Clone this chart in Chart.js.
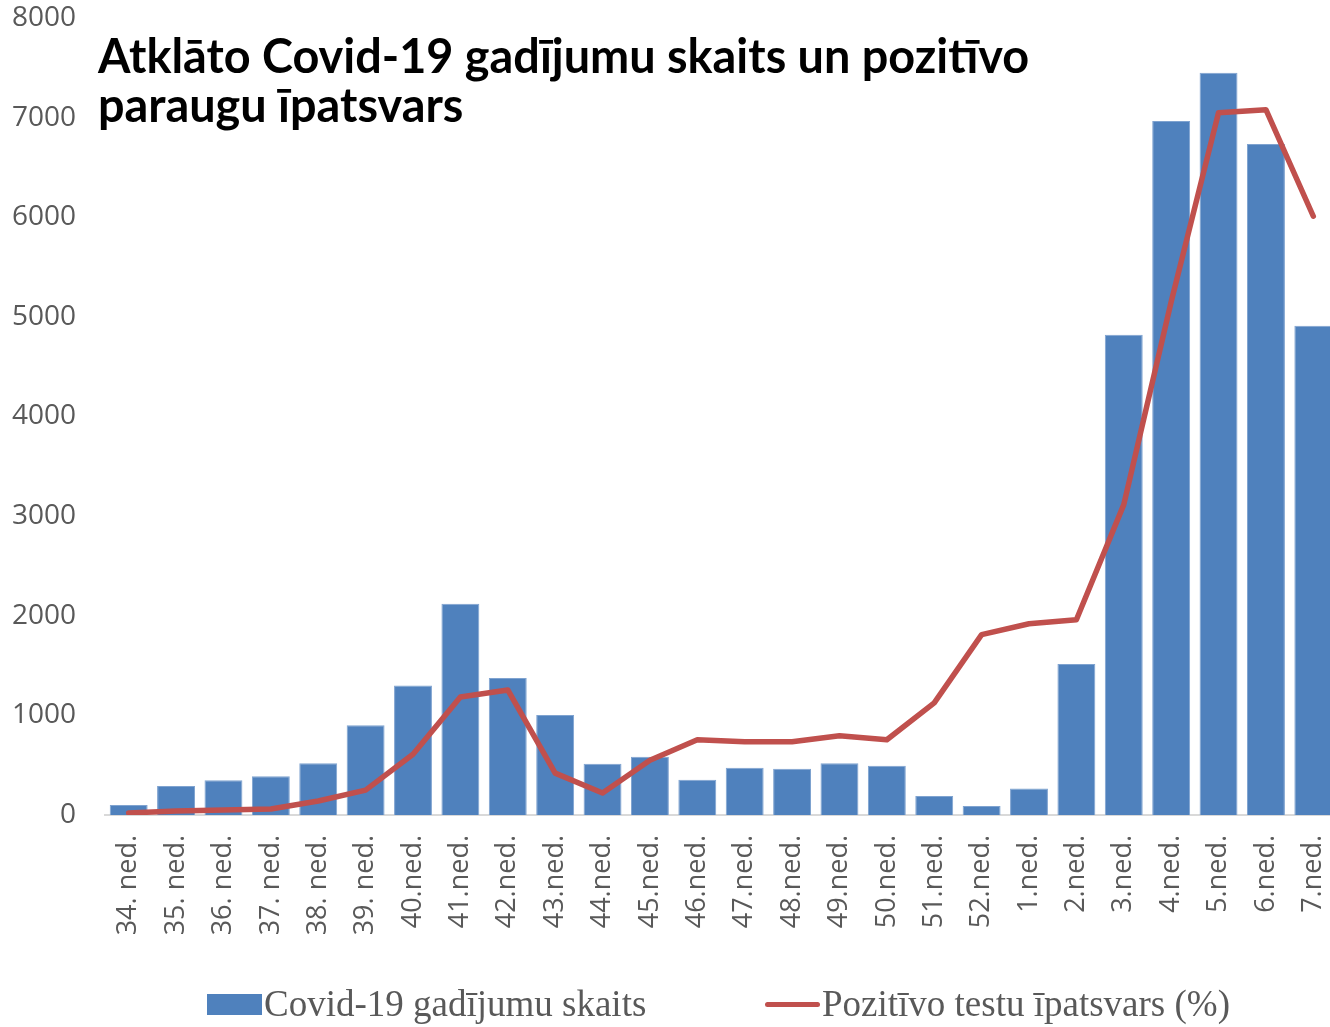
<!DOCTYPE html>
<html>
<head>
<meta charset="utf-8">
<script src="https://cdn.jsdelivr.net/npm/chart.js@4/dist/chart.umd.min.js"></script>
<style>
  html, body { margin: 0; padding: 0; background: #fff; overflow: hidden; }
  #wrap { position: relative; width: 1340px; height: 1027px; }
  #title {
    position: absolute; left: 98px; top: 31px;
    font-family: Lato, sans-serif; font-weight: 700; font-size: 46.8px;
    line-height: 49px; color: #000; white-space: nowrap;
  }
  #legend {
    position: absolute; top: 982px; left: 0; width: 1330px;
    font-family: "Liberation Serif", serif; font-size: 37px; line-height: 44px; color: #595959;
  }
  .item { position: absolute; top: 0; white-space: nowrap; }
  .swatch { display: inline-block; vertical-align: middle; margin-right: 2px; position: relative; top: -3px; }
</style>
</head>
<body>
<div id="wrap">
  <canvas id="chart" width="1340" height="1027"></canvas>
  <div id="title">Atklāto Covid-19 gadījumu skaits un pozitīvo<br>paraugu īpatsvars</div>
  <div id="legend">
    <span class="item" style="left:207px"><span class="swatch" style="width:55px;height:21px;background:#4F81BD"></span>Covid-19 gadījumu skaits</span>
    <span class="item" style="left:765px"><span class="swatch" style="width:55px;height:5px;border-radius:3px;background:#C0504D"></span>Pozitīvo testu īpatsvars (%)</span>
  </div>
</div>
<script>
const weeks = ["34. ned.", "35. ned.", "36. ned.", "37. ned.", "38. ned.", "39. ned.",
  "40.ned.", "41.ned.", "42.ned.", "43.ned.", "44.ned.", "45.ned.", "46.ned.", "47.ned.",
  "48.ned.", "49.ned.", "50.ned.", "51.ned.", "52.ned.", "1.ned.", "2.ned.", "3.ned.",
  "4.ned.", "5.ned.", "6.ned.", "7.ned."];

// weekly detected cases
const cases = [100, 290, 350, 390, 520, 900, 1300, 2120, 1375, 1005, 515, 585, 355, 475,
  465, 520, 495, 190, 90, 265, 1515, 4820, 6965, 7450, 6735, 4910];

// share of positive tests, % (own hidden axis)
const positiveShare = [0.04, 0.08, 0.10, 0.12, 0.28, 0.50, 1.22, 2.37, 2.51, 0.84, 0.44,
  1.10, 1.51, 1.47, 1.47, 1.59, 1.51, 2.25, 3.62, 3.84, 3.92, 6.23, 10.3, 14.1, 14.16, 12.02];

const yTicks = [0, 1000, 2000, 3000, 4000, 5000, 6000, 7000, 8000];

function drawChart() {
  const ctx = document.getElementById("chart").getContext("2d");
  new Chart(ctx, {
    data: {
      labels: weeks,
      datasets: [
        {
          type: "line",
          label: "Pozitīvo testu īpatsvars (%)",
          data: positiveShare,
          yAxisID: "y1",
          borderColor: "#C0504D",
          backgroundColor: "#C0504D",
          borderWidth: 5.5,
          borderCapStyle: "round",
          borderJoinStyle: "round",
          pointRadius: 0,
          tension: 0,
          order: 0,
        },
        {
          type: "bar",
          label: "Covid-19 gadījumu skaits",
          data: cases,
          yAxisID: "y",
          backgroundColor: "#4F81BD",
          borderColor: "#7FA3D0",
          borderWidth: 1,
          categoryPercentage: 1,
          barPercentage: 0.8,
          order: 1,
        },
      ],
    },
    options: {
      responsive: false,
      animation: false,
      layout: { padding: { top: 18, right: 3, bottom: 0, left: 0 } },
      plugins: {
        legend: { display: false },
        tooltip: { enabled: false },
      },
      scales: {
        x: {
          grid: { display: false, drawTicks: false },
          border: { display: true, color: "#D9D9D9", width: 2 },
          ticks: {
            color: "#595959",
            font: { family: "'Open Sans', sans-serif", size: 27 },
            minRotation: 90,
            maxRotation: 90,
            autoSkip: false,
            padding: 20,
          },
          afterFit: (scale) => {
            scale.height = 212;
            scale.paddingLeft = 0;
            scale.paddingRight = 0;
          },
        },
        y: {
          min: 0,
          max: 8000,
          grid: { display: false, drawTicks: false },
          border: { display: false },
          afterBuildTicks: (scale) => { scale.ticks = yTicks.map((v) => ({ value: v })); },
          ticks: {
            color: "#595959",
            font: { family: "'Open Sans', sans-serif", size: 28 },
            padding: 29,
            callback: (v) => String(v),
          },
          afterFit: (scale) => {
            scale.width = 105;
            scale.paddingTop = 0;
            scale.paddingBottom = 0;
          },
        },
        y1: {
          display: false,
          min: 0,
          max: 16,
        },
      },
    },
  });
}

Promise.all([
  document.fonts.load("27px 'Open Sans'"),
  document.fonts.load("700 46px Lato"),
]).then(drawChart, drawChart);
</script>
</body>
</html>
